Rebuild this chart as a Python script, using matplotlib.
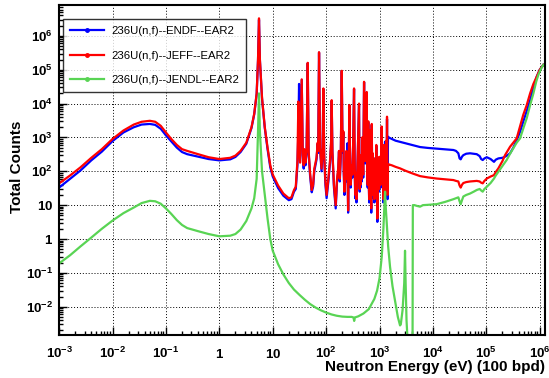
import numpy as np
import matplotlib
matplotlib.use("Agg")
import matplotlib.pyplot as plt
from matplotlib.lines import Line2D
from matplotlib.ticker import FixedLocator, LogLocator, NullFormatter

plt.rcParams['font.family'] = ['Liberation Sans', 'DejaVu Sans']
plt.rcParams['mathtext.fontset'] = 'custom'
plt.rcParams['mathtext.rm'] = 'Liberation Sans:bold'
plt.rcParams['mathtext.it'] = 'Liberation Sans:bold'
plt.rcParams['mathtext.bf'] = 'Liberation Sans:bold'

# -------------------------
# DATA
# -------------------------
# thermal + 5.5 eV resonance region
low_e = [0.001, 0.0016, 0.0025, 0.004, 0.0063, 0.01, 0.016, 0.025, 0.035, 0.05,
         0.063, 0.08, 0.1, 0.126, 0.16, 0.2, 0.25, 0.4, 0.63, 1.0,
         1.6, 2.0, 2.5, 3.2, 4.0, 4.5, 5.0, 5.3, 5.53, 5.75,
         6.3, 7.1, 8.0, 9.0, 10, 12.6, 15.8, 20, 22.4, 25]
low_endf = [33, 60, 105, 210, 380, 780, 1400, 2000, 2400, 2500,
            2350, 1800, 1150, 760, 500, 370, 320, 270, 230, 210,
            225, 265, 370, 650, 1900, 4800, 19000, 1.9e5, 3.0e6, 1.9e5,
            14000, 1900, 450, 130, 70, 32, 19, 14, 15, 25]
low_jeff = [44, 75, 130, 250, 450, 900, 1600, 2400, 2900, 3100,
            2900, 2200, 1400, 900, 600, 450, 400, 320, 260, 230,
            250, 290, 400, 700, 2000, 5000, 20000, 2e5, 3.3e6, 2e5,
            15000, 2000, 500, 150, 80, 38, 22, 16, 17, 28]

# resolved resonance region
res_e = [27, 29, 30.2, 31.1, 32.5, 34.9, 36.5, 38, 39.1, 41, 43, 45.2, 47, 50,
         53.7, 57, 60, 66, 69.5, 71, 73.6, 77, 82, 86, 88.7, 92, 97, 102, 110,
         118, 124, 127, 131, 140, 151, 160, 168, 174, 180, 188, 196, 203, 210,
         214, 220, 232, 240, 245, 250, 258, 265, 272, 280, 288, 300, 310, 322,
         333, 342, 350, 360, 370, 380, 390, 413, 418, 425, 432, 440, 455, 465,
         475, 485, 495, 513, 525, 540, 558, 566, 575, 585, 600, 615, 628, 640,
         660, 680, 700, 715, 730, 746, 760, 780, 800, 824, 840, 870, 910,
         950, 980, 1020, 1050, 1097, 1120, 1150, 1180, 1210, 1240, 1267, 1300,
         1330, 1360, 1380, 1410, 1440]
res_jeff = [35, 200, 11500, 500, 180, 52000, 350, 150, 450, 180, 400, 160000, 400, 90,
            28, 40, 120, 250, 700, 400, 330000, 500, 120, 500, 28000, 300, 50, 20, 60,
            200, 800, 12600, 400, 40, 10, 60, 120, 400, 60, 300, 93000, 400, 1500,
            100, 25, 120, 400, 60, 250, 7, 150, 9100, 300, 40, 150, 80, 1000,
            28000, 200, 20, 90, 15, 60, 300, 10000, 400, 30, 200, 40, 300, 60,
            1000, 200, 80, 44000, 300, 200, 12600, 300, 22000, 200, 40, 3000, 60, 15,
            1660, 60, 8, 2500, 30, 340, 20, 100, 15, 240, 20, 600, 4,
            260, 30, 270, 40, 2100, 60, 170, 15, 600, 20, 300, 30,
            800, 150, 4100, 20, 150]
res_endf = [30, 150, 1500, 38000, 200, 50000, 300, 120, 400, 150, 350, 155000, 350, 75,
            24, 35, 100, 220, 650, 350, 320000, 450, 100, 450, 27000, 250, 40, 16, 50,
            170, 700, 12000, 350, 33, 8, 50, 100, 380, 50, 260, 90000, 350, 1400,
            80, 20, 100, 350, 50, 670, 6, 130, 9000, 260, 33, 130, 65, 900,
            27000, 170, 16, 75, 12, 50, 260, 9500, 350, 25, 170, 33, 260, 50,
            900, 170, 65, 43000, 260, 170, 12000, 260, 21000, 170, 33, 2800, 50, 12,
            1500, 50, 6, 2300, 25, 300, 16, 85, 12, 240, 16, 550, 3.2,
            240, 25, 250, 33, 2000, 50, 150, 12, 550, 16, 750, 25,
            700, 130, 3500, 15, 1050]

# unresolved / fast region
fast_e = [1485, 1700, 2000, 2420, 3000, 4000, 5730, 8000, 11800, 17000,
          24200, 27000, 29900, 31500, 33100, 35000, 37100, 42000, 49500, 58000,
          66100, 75000, 80000, 85500, 92000, 1.02e5, 1.2e5, 1.39e5, 1.5e5, 1.68e5,
          2e5, 2.24e5, 2.5e5, 2.78e5, 3.2e5, 3.7e5, 4.3e5, 4.9e5, 5.7e5, 6.6e5,
          7.6e5, 8.8e5, 1.0e6, 1.17e6]
fast_endf = [1000, 900, 800, 740, 680, 600, 520, 490, 465, 440,
             425, 400, 340, 240, 225, 270, 300, 330, 340, 330,
             320, 280, 230, 215, 240, 260, 230, 190, 220, 240,
             250, 270, 300, 340, 500, 830, 1500, 2900, 6000, 12600,
             30000, 63000, 1e5, 1.4e5]
fast_jeff = [160, 150, 135, 122, 105, 88, 72, 66, 61, 58,
             55, 52, 50, 38, 33, 40, 45, 48, 50, 51,
             52, 50, 46, 44, 52, 61, 70, 77, 95, 122,
             200, 300, 400, 530, 700, 940, 2200, 4600, 9000, 20000,
             38000, 63000, 1e5, 1.4e5]

# JENDL over the full range
jendl_e = [0.001, 0.0016, 0.0025, 0.004, 0.0063, 0.01, 0.016, 0.025, 0.035, 0.05,
           0.063, 0.08, 0.1, 0.126, 0.16, 0.2, 0.25, 0.4, 0.63, 1.0,
           1.6, 2.0, 2.5, 3.2, 4.0, 4.5, 5.0, 5.3, 5.53, 5.75,
           6.3, 7.1, 8.0, 9.0, 10, 12.6, 15.8, 20, 25, 32,
           40, 50, 63, 80, 100, 126, 158, 200, 250, 300,
           325, 335, 345, 400, 500, 630, 800, 900, 1000, 1100,
           1180, 1240, 1270, 1300, 1365, 1450, 1573, 1750, 1950, 2200,
           2420, 2500, 2700, 2900, 3000, 3080, 3200, 3350, 4150, 4200,
           4500, 5000, 5730, 6500, 8000, 11800, 17000, 24200, 29900, 31500,
           33100, 35000, 37100, 42000, 49500, 58000, 66100, 75000, 80000, 85500,
           92000, 1.02e5, 1.2e5, 1.39e5, 1.5e5, 1.78e5, 2.1e5, 2.4e5, 2.78e5, 3.2e5,
           3.7e5, 4.28e5, 5.0e5, 5.7e5, 6.6e5, 7.6e5, 8.6e5, 9.4e5, 1.05e6, 1.17e6]
jendl_c = [0.19, 0.33, 0.6, 1.1, 2.0, 3.5, 5.8, 8.5, 11.5, 13.4,
           13, 11, 8, 5.5, 3.6, 2.6, 2.1, 1.7, 1.4, 1.2,
           1.25, 1.4, 1.9, 3.4, 8, 16, 60, 1500, 2e4, 1500,
           100, 20, 4, 1.0, 0.45, 0.18, 0.09, 0.05, 0.032, 0.022,
           0.016, 0.012, 0.0095, 0.0078, 0.0067, 0.0059, 0.0054, 0.0051, 0.005, 0.005,
           0.0048, 0.0038, 0.0048, 0.0052, 0.0063, 0.0085, 0.017, 0.03, 0.07, 0.3,
           2, 12, 25, 10, 2.9, 0.6, 0.15, 0.04, 0.015, 0.005,
           0.0028, 0.003, 0.008, 0.05, 0.45, 0.05, 0.004, 0.001, 0.0008, 10,
           10, 9.5, 9, 10, 10.2, 10.7, 12.5, 15, 17, 13,
           10.7, 14, 18, 20, 22, 25, 28, 30, 27, 25,
           30, 35, 45, 61, 75, 110, 160, 215, 330, 480,
           700, 940, 2000, 3700, 9000, 20000, 45000, 70000, 1.05e5, 1.4e5]

endf_e = low_e + res_e + fast_e
endf_c = low_endf + res_endf + fast_endf
jeff_e = low_e + res_e + fast_e
jeff_c = low_jeff + res_jeff + fast_jeff

labels = ['236U(n,f)--ENDF--EAR2', '236U(n,f)--JEFF--EAR2', '236U(n,f)--JENDL--EAR2']
colors = ['#0000ff', '#ff0000', '#59d454']


def dec_label(k):
    if k == 0:
        return r'$1$'
    if k == 1:
        return r'$10$'
    return r'$10^{%d}$' % k


# -------------------------
# PLOT
# -------------------------
fig = plt.figure(figsize=(5.49, 3.78), dpi=100)
ax = fig.add_axes([0.1077, 0.1138, 0.8842, 0.8717])
ax.set_xscale('log')
ax.set_yscale('log')

ax.plot(endf_e, endf_c, color=colors[0], lw=1.6)
ax.plot(jeff_e, jeff_c, color=colors[1], lw=1.6)
ax.plot(jendl_e, jendl_c, color=colors[2], lw=1.6)

ax.set_xlim(1e-3, 1.23e6)
ax.set_ylim(1.46e-3, 7.9e6)

xk = list(range(-3, 7))
yk = list(range(-2, 7))
ax.xaxis.set_major_locator(FixedLocator([10.0 ** k for k in xk]))
ax.set_xticklabels([dec_label(k) for k in xk])
ax.yaxis.set_major_locator(FixedLocator([10.0 ** k for k in yk]))
ax.set_yticklabels([dec_label(k) for k in yk])
for a in (ax.xaxis, ax.yaxis):
    a.set_minor_locator(LogLocator(base=10, subs=np.arange(2, 10), numticks=100))
    a.set_minor_formatter(NullFormatter())

ax.tick_params(which='both', direction='in', top=False, right=False, width=1, labelsize=9.5)
ax.tick_params(which='major', length=6)
ax.tick_params(which='minor', length=3)
ax.tick_params(axis='x', which='major', pad=16.5)
ax.tick_params(axis='y', which='major', pad=4.4)
for t in ax.get_xticklabels():
    t.set_va('baseline')

ax.grid(True, which='major', linestyle=(0, (1, 2)), color='black', lw=0.7)
ax.set_axisbelow(True)
for s in ax.spines.values():
    s.set_linewidth(1.5)

fig.text(17 / 549, 1 - 166.5 / 378, 'Total Counts', rotation=90, ha='center', va='center',
         fontsize=11, fontweight='bold')
fig.text(545 / 549, 1 - 370.7 / 378, 'Neutron Energy (eV) (100 bpd)', ha='right', va='baseline',
         fontsize=11, fontweight='bold')

handles = [Line2D([], [], color=c, lw=1.6, marker='o', ms=2.5) for c in colors]
leg = fig.legend(handles, labels, loc='upper left', bbox_to_anchor=(63.3 / 549, 1 - 19 / 378),
                 borderaxespad=0, fontsize=8.2, frameon=True, fancybox=False, shadow=False,
                 handlelength=3.0, handletextpad=0.6, labelspacing=1.3, borderpad=0.6,
                 numpoints=1)
leg.get_frame().set_edgecolor('black')
leg.get_frame().set_linewidth(1.0)

fig.savefig('out.png', dpi=100)
print("DONE")
